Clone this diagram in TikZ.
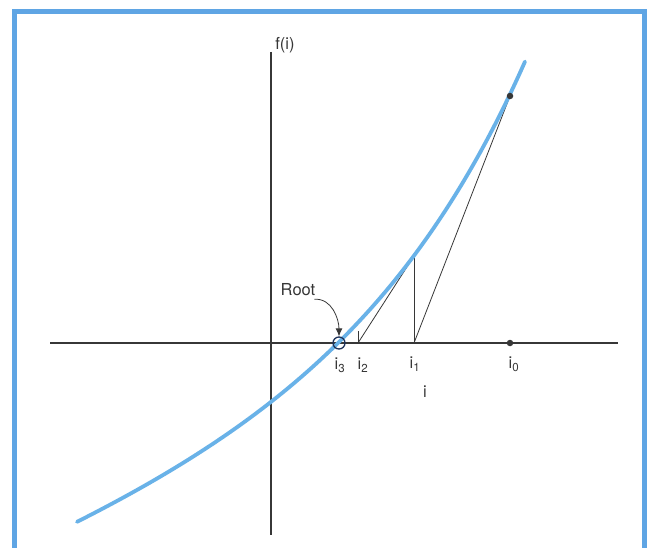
\documentclass[tikz,border=0pt]{standalone}
\usepackage{fontspec}
\setmainfont{TeX Gyre Heros}
\usetikzlibrary{arrows.meta}
\definecolor{frameblue}{RGB}{95,165,228}
\definecolor{curveblue}{RGB}{105,178,232}
\definecolor{axisgray}{RGB}{55,55,55}
\definecolor{rootblue}{RGB}{30,50,90}
\tikzset{
  axisline/.style={draw=axisgray, line width=1.1pt},
  thinline/.style={draw=axisgray, line width=0.8pt},
  curveline/.style={draw=curveblue, line width=3.8pt, line cap=round},
  framestyle/.style={draw=frameblue, line width=5pt},
  lbl/.style={font=\fontsize{16.5}{18}\selectfont, text=axisgray, inner sep=1pt},
  dotmark/.style={circle, fill=axisgray, inner sep=0pt, minimum size=6.5pt}
}
\begin{document}
\begin{tikzpicture}[x=1pt,y=-1pt]
\useasboundingbox (0,0) rectangle (648,548);
\fill[white] (0,0) rectangle (648,548);
% frame
\draw[framestyle] (14.5,550) -- (14.5,11.5) -- (644.5,11.5) -- (644.5,550);
% axes
\coordinate (xl) at (50,343);
\coordinate (xr) at (618,343);
\coordinate (yt) at (271,52);
\coordinate (yb) at (271,535);
\draw[axisline] (xl) -- (xr);
\draw[axisline] (yt) -- (yb);
% points
\coordinate (P0) at (510,96);
\coordinate (I1) at (414,343);
\coordinate (P1) at (414,256);
\coordinate (I2) at (358,343);
\coordinate (T2) at (358,331);
% Newton lines
\draw[thinline] (P0) -- (I1);
\draw[thinline] (I1) -- (P1);
\draw[thinline] (P1) -- (I2);
\draw[thinline] (I2) -- (T2);
% curve
\draw[curveline] plot[domain=-261:187, samples=120, smooth]
  ({338+\x},{343-(100.4*(exp(0.00605*\x)-1)+0.38*\x)});
% dots
\node[dotmark] (d0) at (P0) {};
\node[dotmark] (d1) at (510,343) {};
% root circle
\node[circle, draw=rootblue, line width=1.3pt, minimum size=12pt, inner sep=0pt] (rc) at (339,343) {};
% labels
\node[lbl] (fi) at (285,45) {f(i)};
\node[lbl] (root) at (298,290) {Root};
\node[lbl] (l3) at (340,365) {i\textsubscript{3}};
\node[lbl] (l2) at (363,365) {i\textsubscript{2}};
\node[lbl] (l1) at (415,364) {i\textsubscript{1}};
\node[lbl] (l0) at (514,364) {i\textsubscript{0}};
\node[lbl] (li) at (425,392) {i};
% arrow
\draw[thinline, -{Latex[length=8pt,width=7pt]}] ([xshift=-2pt,yshift=-2pt]root.south east) to[out=5, in=90] (rc.north);
\end{tikzpicture}
\end{document}
